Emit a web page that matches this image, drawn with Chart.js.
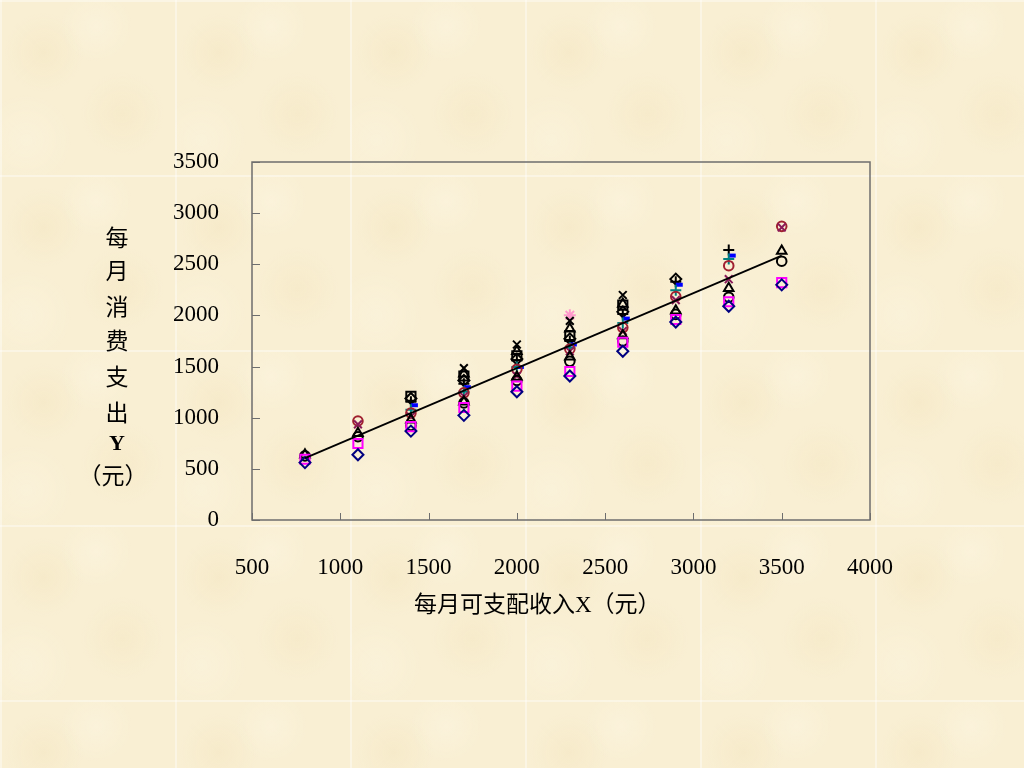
<!DOCTYPE html>
<html>
<head>
<meta charset="utf-8">
<script src="https://cdn.jsdelivr.net/npm/chart.js@4.4.0/dist/chart.umd.min.js"></script>
<style>
  html, body { margin: 0; padding: 0; }
  body {
    width: 1024px;
    height: 768px;
    overflow: hidden;
    background-color: #f9efd3;
    background-image:
      linear-gradient(90deg, rgba(255,255,255,0.38) 0, rgba(255,255,255,0.38) 2px, transparent 2px),
      linear-gradient(180deg, rgba(255,255,255,0.38) 0, rgba(255,255,255,0.38) 2px, transparent 2px),
      radial-gradient(circle at 25% 30%, rgba(238,218,170,0.22), transparent 22%),
      radial-gradient(circle at 70% 65%, rgba(238,218,170,0.2), transparent 25%),
      radial-gradient(circle at 55% 15%, rgba(255,250,235,0.3), transparent 20%),
      radial-gradient(circle at 15% 80%, rgba(255,250,235,0.25), transparent 22%);
    background-size: 175px 175px;
  }
  #wrap { position: relative; width: 1024px; height: 768px; }
</style>
</head>
<body>
<div id="wrap"><canvas id="chart" width="1024" height="768"></canvas></div>
<script>
// 每月可支配收入 X
const incomeX = [800, 1100, 1400, 1700, 2000, 2300, 2600, 2900, 3200, 3500];

// 每月消费支出 Y, one row per household rank within each income group
const spendRow1  = [561, 638, 869, 1023, 1254, 1408, 1650, 1935, 2090, 2299];
const spendRow2  = [594, 748, 913, 1100, 1309, 1452, 1738, 1960, 2134, 2321];
const spendRow3  = [627, 814, 924, 1144, 1364, 1551, 1749, 2010, 2178, 2530];
const spendRow4  = [638, 847, 979, 1155, 1397, 1595, 1804, 2045, 2266, 2629];
const spendRow5  = [null, 935, 1012, 1210, 1408, 1650, 1848, 2150, 2354, 2860];
const spendRow6  = [null, 968, 1045, 1243, 1474, 1672, 1881, 2185, 2486, 2871];
const spendRow7  = [null, null, 1078, 1254, 1496, 1683, 1925, 2245, 2552, null];
const spendRow8  = [null, null, 1122, 1298, 1496, 1716, 1969, 2300, 2585, null];
const spendRow9  = [null, null, 1155, 1331, 1562, 1749, 2013, 2330, 2640, null];
const spendRow10 = [null, null, 1188, 1364, 1573, 1771, 2035, 2355, null, null];
const spendRow11 = [null, null, 1210, 1408, 1606, 1804, 2101, null, null, null];
const spendRow12 = [null, null, null, 1430, 1650, 1870, 2112, null, null, null];
const spendRow13 = [null, null, null, 1485, 1716, 1947, 2200, null, null, null];
const spendRow14 = [null, null, null, null, null, 2002, null, null, null, null];

// regression line end points
const fitX = [800, 3500];
const fitY = [605, 2585];

const xTicks = [500, 1000, 1500, 2000, 2500, 3000, 3500, 4000];
const yTicks = [0, 500, 1000, 1500, 2000, 2500, 3000, 3500];

const rows = [spendRow1, spendRow2, spendRow3, spendRow4, spendRow5, spendRow6, spendRow7,
              spendRow8, spendRow9, spendRow10, spendRow11, spendRow12, spendRow13, spendRow14];

// marker look per row (Excel-like defaults)
const markers = [
    { style: 'rectRot',  color: '#000080' },
    { style: 'rect',     color: '#ff00ff' },
    { style: 'circle',   color: '#000000' },
    { style: 'triangle', color: '#000000' },
    { style: 'crossRot', color: '#8a1a5a' },
    { style: 'circle',   color: '#a02030' },
    { style: 'cross',    color: '#008080' },
    { style: 'dash',     color: '#0000ff' },
    { style: 'cross',    color: '#000000' },
    { style: 'rectRot',  color: '#000000' },
    { style: 'rect',     color: '#000000' },
    { style: 'triangle', color: '#000000' },
    { style: 'crossRot', color: '#000000' },
    { style: 'star',     color: '#ff99cc' }
];
const markerRadius = { rectRot: 5.5, rect: 6.5, circle: 4.8, triangle: 5.5, crossRot: 5.5, cross: 5.5, dash: 7, star: 6 };

const serif = '"Liberation Serif", "Times New Roman", serif';
const cjk = '"Liberation Serif", "Noto Sans CJK SC", serif';

const datasets = rows.map(function(row, i) {
    const pts = [];
    row.forEach(function(v, j) {
        if (v !== null) pts.push({ x: incomeX[j], y: v });
    });
    const m = markers[i];
    return {
        label: 'Y' + (i + 1),
        data: pts,
        pointStyle: m.style,
        pointRadius: markerRadius[m.style],
        pointBorderWidth: m.style === 'dash' ? 4 : 2,
        pointBorderColor: m.color,
        pointBackgroundColor: 'rgba(0,0,0,0)',
        borderColor: m.color,
        showLine: false,
        order: 1
    };
});

datasets.push({
    label: 'fit',
    data: fitX.map((x, i) => ({ x: x, y: fitY[i] })),
    showLine: true,
    borderColor: '#000000',
    borderWidth: 1.8,
    pointRadius: 0,
    order: 0
});

// plot frame and inward tick marks
const framePlugin = {
    id: 'frame',
    beforeDatasetsDraw(chart) {
        const ctx = chart.ctx;
        const a = chart.chartArea;
        const sx = chart.scales.x, sy = chart.scales.y;
        ctx.save();
        ctx.strokeStyle = '#6e6e6e';
        ctx.lineWidth = 1.5;
        ctx.strokeRect(a.left, a.top, a.right - a.left, a.bottom - a.top);
        ctx.lineWidth = 1;
        ctx.beginPath();
        xTicks.forEach(function(v) {
            const px = Math.round(sx.getPixelForValue(v)) + 0.5;
            ctx.moveTo(px, a.bottom);
            ctx.lineTo(px, a.bottom - 7);
        });
        yTicks.forEach(function(v) {
            const py = Math.round(sy.getPixelForValue(v)) + 0.5;
            ctx.moveTo(a.left, py);
            ctx.lineTo(a.left + 8, py);
        });
        ctx.stroke();
        ctx.restore();
    },
    afterDraw(chart) {
        const ctx = chart.ctx;
        ctx.save();
        ctx.fillStyle = '#000';
        ctx.textBaseline = 'middle';
        // x title
        ctx.font = '23px ' + cjk;
        ctx.textAlign = 'left';
        ctx.fillText('每月可支配收入X（元）', 414, 606);
        // y title, stacked
        ctx.textAlign = 'center';
        const chars = ['每', '月', '消', '费', '支', '出'];
        const ys = [240, 273, 309, 343, 379, 415];
        chars.forEach(function(c, i) { ctx.fillText(c, 117, ys[i]); });
        ctx.font = 'bold 22px ' + serif;
        ctx.fillText('Y', 117, 444);
        ctx.font = '23px ' + cjk;
        ctx.fillText('（元）', 113, 478);
        ctx.restore();
    }
};

new Chart(document.getElementById('chart').getContext('2d'), {
    type: 'scatter',
    data: { datasets: datasets },
    options: {
        responsive: false,
        animation: false,
        layout: { padding: { left: 0, top: 162, right: 154, bottom: 0 } },
        plugins: {
            legend: { display: false },
            tooltip: { enabled: false }
        },
        scales: {
            x: {
                type: 'linear',
                min: 500,
                max: 4000,
                afterBuildTicks: function(s) { s.ticks = xTicks.map(v => ({ value: v })); },
                afterFit: function(s) { s.height = 248; },
                grid: { display: false, drawTicks: false },
                border: { display: false },
                ticks: {
                    color: '#000',
                    font: { family: serif, size: 23 },
                    padding: 34,
                    maxRotation: 0,
                    autoSkip: false,
                    callback: function(v) { return String(v); }
                }
            },
            y: {
                type: 'linear',
                min: 0,
                max: 3500,
                afterBuildTicks: function(s) { s.ticks = yTicks.map(v => ({ value: v })); },
                afterFit: function(s) { s.width = 252; },
                grid: { display: false, drawTicks: false },
                border: { display: false },
                ticks: {
                    color: '#000',
                    font: { family: serif, size: 23 },
                    padding: 33,
                    autoSkip: false,
                    callback: function(v) { return String(v); }
                }
            }
        }
    },
    plugins: [framePlugin]
});
</script>
</body>
</html>
